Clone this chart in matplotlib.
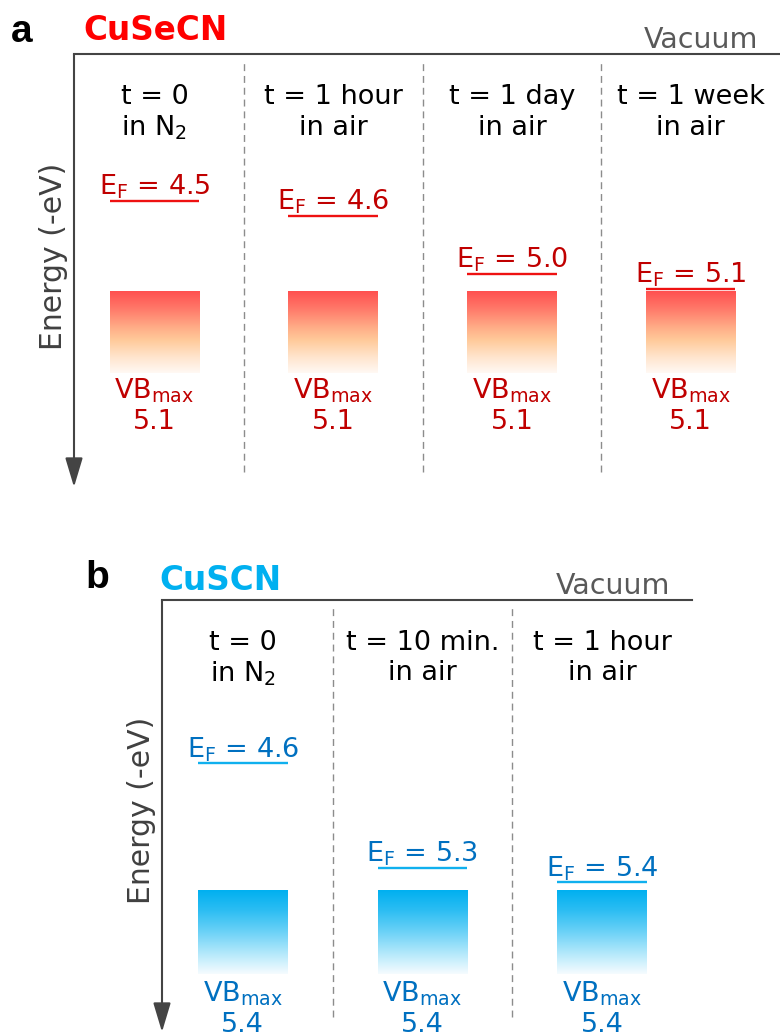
import matplotlib
matplotlib.use("Agg")
import matplotlib.pyplot as plt
import numpy as np
from matplotlib.colors import LinearSegmentedColormap
from matplotlib.transforms import offset_copy, blended_transform_factory

plt.rcParams['font.family'] = ['DejaVu Sans']
plt.rcParams['mathtext.fontset'] = 'dejavusans'

# CuSeCN: Fermi level and valence band maximum (eV below vacuum)
secn_time = ["t = 0", "t = 1 hour", "t = 1 day", "t = 1 week"]
secn_env = ["in N$_{2}$", "in air", "in air", "in air"]
secn_ef = [4.5, 4.6, 5.0, 5.1]
secn_vb = [5.1, 5.1, 5.1, 5.1]

# CuSCN
scn_time = ["t = 0", "t = 10 min.", "t = 1 hour"]
scn_env = ["in N$_{2}$", "in air", "in air"]
scn_ef = [4.6, 5.3, 5.4]
scn_vb = [5.4, 5.4, 5.4]

W, H = 780, 1034
AXIS_COLOR = '#444444'


def px_rect(left, top, right, bottom):
    return [left / W, 1 - bottom / H, (right - left) / W, (bottom - top) / H]


def draw_panel(fig, ax, times, envs, ef, vb, cmap, line_color, text_color,
               ylim, ef_lift, label_y, vb_offsets):
    n = len(times)
    centers = np.arange(n) + 0.5
    depth = 0.56
    grad = np.linspace(0, 1, 256).reshape(-1, 1)

    for c, v in zip(centers, vb):
        ax.imshow(grad, cmap=cmap, aspect='auto', interpolation='bilinear',
                  extent=[c - 0.25, c + 0.25, v + depth, v], zorder=2)

    # Fermi level lines, lifted a few pixels so they clear the band edge
    lifted = offset_copy(ax.transData, fig=fig, x=0, y=ef_lift, units='dots')
    for c, e in zip(centers, ef):
        ax.plot([c - 0.25, c + 0.25], [e, e], color=line_color, lw=1.7,
                transform=lifted, solid_capstyle='butt', zorder=3)
        ax.annotate(f"E$_\\mathrm{{F}}$ = {e:.1f}", xy=(c, e),
                    xytext=(0, ef_lift * 0.72 + 4.5), textcoords='offset points',
                    ha='center', va='baseline', fontsize=19.5, color=text_color)

    for c, v in zip(centers, vb):
        ax.annotate("VB$_\\mathrm{max}$", xy=(c, v), xytext=(0, vb_offsets[0]),
                    textcoords='offset points', ha='center', va='center',
                    fontsize=19.5, color=text_color, annotation_clip=False)
        ax.annotate(f"{v:.1f}", xy=(c, v), xytext=(0, vb_offsets[1]),
                    textcoords='offset points', ha='center', va='center',
                    fontsize=19.5, color=text_color, annotation_clip=False)

    top = blended_transform_factory(ax.transData, ax.transAxes)
    for c, t, env in zip(centers, times, envs):
        ax.text(c, 0.90, t, transform=top, ha='center', va='center',
                fontsize=19.5, color='black')
        ax.text(c, 0.83, env, transform=top, ha='center', va='center',
                fontsize=19.5, color='black')

    for k in range(1, n):
        ax.axvline(k, ymin=0.035, ymax=0.987, color='#8c8c8c', lw=1.0,
                   ls=(0, (5, 3.5)), zorder=1)

    ax.annotate("Vacuum", xy=(n - 0.12, 1), xycoords=top,
                xytext=(0, 4.5), textcoords='offset points',
                ha='right', va='baseline', fontsize=20.5, color='#595959',
                annotation_clip=False)

    ax.annotate("", xy=(0, 0), xytext=(0, 1), xycoords='axes fraction',
                arrowprops=dict(arrowstyle='-|>,head_length=0.9,head_width=0.27',
                                mutation_scale=20, color=AXIS_COLOR, lw=1.5,
                                shrinkA=0, shrinkB=0))
    ax.annotate("Energy (-eV)", xy=(0, label_y), xycoords='axes fraction',
                xytext=(-15, 0), textcoords='offset points', rotation=90,
                ha='center', va='center', fontsize=21.5, color='#404040')

    ax.set_xlim(0.05, n)
    ax.set_ylim(*ylim)
    for side in ['left', 'right', 'bottom']:
        ax.spines[side].set_visible(False)
    ax.spines['top'].set_color(AXIS_COLOR)
    ax.spines['top'].set_linewidth(1.5)
    ax.set_xticks([])
    ax.set_yticks([])
    ax.patch.set_alpha(0)


red_map = LinearSegmentedColormap.from_list(
    'secn', [(0, '#FF5050'), (0.22, '#FF7A6A'), (0.45, '#FFAE88'),
             (0.6, '#FFCA9A'), (0.8, '#FFE4CC'), (1, '#FFF9F4')])
blue_map = LinearSegmentedColormap.from_list(
    'scn', [(0, '#00B0F0'), (0.25, '#2EBEF3'), (0.5, '#6CD2F7'),
            (0.75, '#B2E8FB'), (1, '#F6FCFF')])

fig = plt.figure(figsize=(W / 100, H / 100), dpi=100)

ax_a = fig.add_axes(px_rect(74, 54, 780, 487))
draw_panel(fig, ax_a, secn_time, secn_env, secn_ef, secn_vb, red_map,
           '#EE1111', '#C00000', (6.44, 3.47), 3, 0.533, (-71, -93.5))

ax_b = fig.add_axes(px_rect(162, 600, 692, 1032))
draw_panel(fig, ax_b, scn_time, scn_env, scn_ef, scn_vb, blue_map,
           '#10B0EE', '#0070C0', (6.35, 3.45), 8, 0.514, (-74, -96.5))

fig.text(22 / W, 1 - 32 / H, "a", fontsize=28, fontweight='bold',
         family='Liberation Sans', ha='center', va='center')
fig.text(83 / W, 1 - 31 / H, "CuSeCN", fontsize=23.5, fontweight='bold',
         color='#FF0000', ha='left', va='center')
fig.text(97 / W, 1 - 578 / H, "b", fontsize=28, fontweight='bold',
         family='Liberation Sans', ha='center', va='center')
fig.text(159 / W, 1 - 580 / H, "CuSCN", fontsize=23.5, fontweight='bold',
         color='#00B0F0', ha='left', va='center')

fig.savefig('out.png', dpi=100)
